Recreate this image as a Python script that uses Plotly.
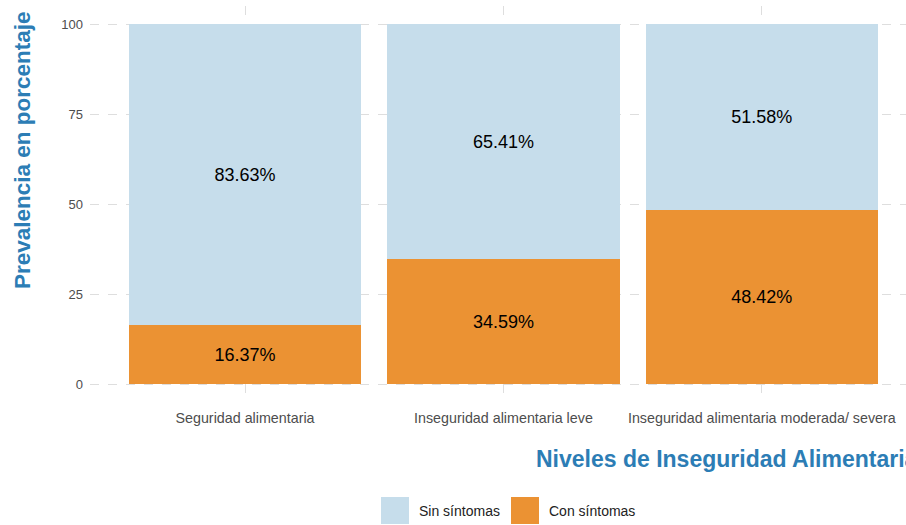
import plotly.graph_objects as go

categories = ["Seguridad alimentaria", "Inseguridad alimentaria leve", "Inseguridad alimentaria moderada/ severa"]
sin_sintomas = [83.63, 65.41, 51.58]
con_sintomas = [16.37, 34.59, 48.42]
series_names = ["Sin síntomas", "Con síntomas"]
y_ticks = [0, 25, 50, 75, 100]

c_sin = "#C6DDEB"
c_con = "#EB9233"
title_blue = "#2C7DB5"
FONT = "Liberation Sans, Arial"

W, H = 906, 525
fig = go.Figure()
fig.add_trace(go.Bar(
    x=categories, y=con_sintomas, name=series_names[1], marker=dict(color=c_con, line=dict(width=0)),
    width=0.9, text=[f"{v:.2f}%" for v in con_sintomas], textposition="inside",
    insidetextanchor="middle", textfont=dict(size=18, color="black", family=FONT),
    constraintext="none", showlegend=False, hoverinfo="skip"))
fig.add_trace(go.Bar(
    x=categories, y=sin_sintomas, name=series_names[0], marker=dict(color=c_sin, line=dict(width=0)),
    width=0.9, text=[f"{v:.2f}%" for v in sin_sintomas], textposition="inside",
    insidetextanchor="middle", textfont=dict(size=18, color="black", family=FONT),
    constraintext="none", showlegend=False, hoverinfo="skip"))

ml, mr, mt, mb = 90, 0, 6, 123
fig.update_layout(
    width=W, height=H, barmode="stack", bargap=0.1,
    plot_bgcolor="white", paper_bgcolor="white",
    margin=dict(l=ml, r=mr, t=mt, b=mb, autoexpand=False),
    font=dict(family=FONT, color="#4D4D4D", size=13),
    showlegend=False,
)
fig.update_xaxes(type="category", range=[-0.6, 2.558], showgrid=True, gridcolor="#DEDEDE",
                 griddash="dash", gridwidth=1, showline=False, zeroline=False,
                 ticks="", tickfont=dict(size=14.3, color="#4D4D4D"), ticklabelstandoff=6)
fig.update_yaxes(range=[-5, 105], tickvals=y_ticks, ticktext=[str(v) for v in y_ticks],
                 showgrid=True, gridcolor="#DEDEDE", griddash="dash", gridwidth=1,
                 zeroline=False, showline=False, ticks="", tickfont=dict(size=13, color="#4D4D4D"),
                 ticklabelstandoff=6)

def px_x(p):
    return (p - ml) / (W - ml - mr)
def px_y(p):
    return ((H - mb) - p) / (H - mt - mb)

# Axis titles (x title is clipped at the right edge, as in the reference)
fig.add_annotation(text="<b>Niveles de Inseguridad Alimentaria</b>", xref="paper", yref="paper",
                   x=px_x(534), y=px_y(459), xanchor="left", yanchor="middle", showarrow=False,
                   font=dict(size=23, color=title_blue, family=FONT))
fig.add_annotation(text="<b>Prevalencia en porcentaje</b>", xref="paper", yref="paper",
                   x=px_x(22), y=px_y(150), xanchor="center", yanchor="middle", textangle=-90,
                   showarrow=False, font=dict(size=22.5, color=title_blue, family=FONT))

# Legend (manual, bottom)
legend_items = [(series_names[0], c_sin, 381), (series_names[1], c_con, 511)]
for name, col, x0 in legend_items:
    fig.add_shape(type="rect", xref="paper", yref="paper", x0=px_x(x0), x1=px_x(x0 + 28),
                  y0=px_y(497), y1=px_y(524), fillcolor=col, line=dict(width=0), layer="above")
    fig.add_annotation(text=name, xref="paper", yref="paper", x=px_x(x0 + 36), y=px_y(511),
                       xanchor="left", yanchor="middle", showarrow=False,
                       font=dict(size=14, color="#222222", family=FONT))

fig.write_html("out.html", config={"displayModeBar": False},
               post_script="document.body.style.margin='0';document.body.style.overflow='hidden';")
